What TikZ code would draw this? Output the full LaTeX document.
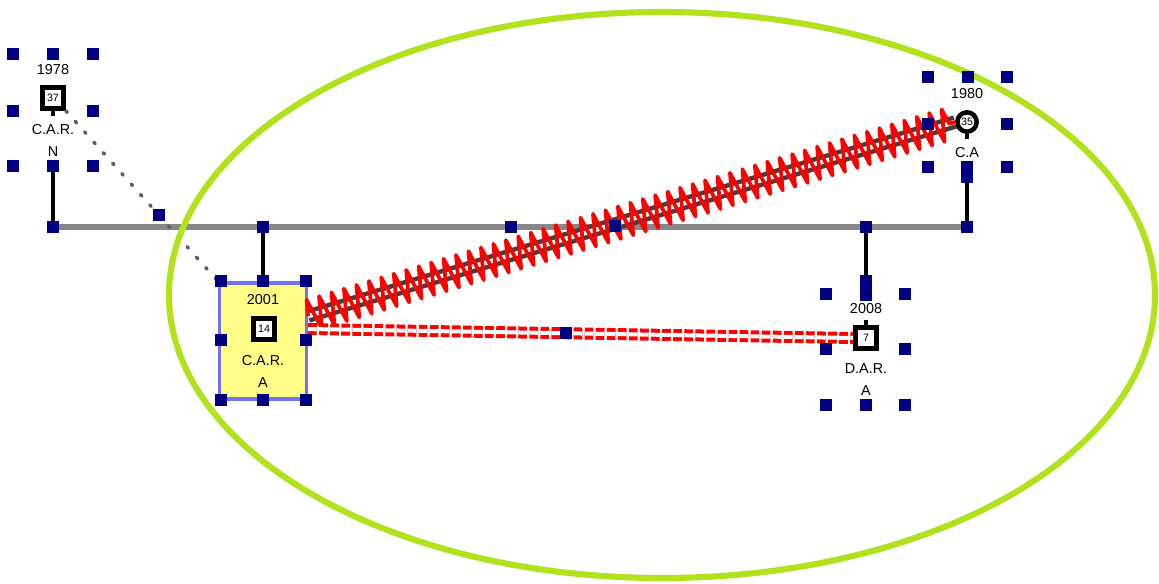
\documentclass[tikz,border=0pt]{standalone}
\usepackage{fontspec}
\setmainfont{Liberation Sans}
\usetikzlibrary{positioning, calc, decorations.pathmorphing}
\definecolor{grip}{RGB}{0, 0, 128}
\definecolor{kinline}{RGB}{135, 135, 135}
\definecolor{hoop}{RGB}{178, 226, 30}
\definecolor{focus}{RGB}{255, 255, 136}
\definecolor{focusedge}{RGB}{115, 115, 240}
\definecolor{clash}{RGB}{255, 0, 0}
\definecolor{bond}{RGB}{64, 64, 64}

\begin{document}
\begin{tikzpicture}[
    x=0.75pt, y=-0.75pt,
    male/.style={
        rectangle, draw=black, fill=white,
        line width=3.4pt, minimum size=16pt, inner sep=0pt,
        font=\fontsize{8}{9}\selectfont,
    },
    female/.style={male, circle, minimum size=14.5pt},
    focusbox/.style={
        rectangle, draw=focusedge, fill=focus,
        line width=2.6pt, minimum width=65pt, minimum height=87pt,
    },
    yearlabel/.style={font=\fontsize{10.8}{12}\selectfont, inner sep=0pt},
    namelabel/.style={
        inner sep=0pt, align=center,
        font=\fontsize{10.8}{16.5}\selectfont,
    },
    handle/.style={rectangle, fill=grip, minimum size=8.5pt, inner sep=0pt},
    tallhandle/.style={handle, minimum height=#1},
    sibline/.style={draw=kinline, line width=4pt},
    drop/.style={draw=black, line width=3pt},
    stem/.style={draw=black, line width=2.8pt},
    distant/.style={
        draw=bond!85, line width=2.6pt, line cap=round,
        dash pattern=on 1.5pt off 9pt,
    },
    bondline/.style={
        draw=bond, line width=3.4pt,
        double=white, double distance=3.4pt,
    },
    hostile/.style={
        draw=clash, line width=2.8pt, line join=round,
        decorate, decoration={zigzag, segment length=9.75pt, amplitude=12pt},
    },
    conflictline/.style={
        draw=clash, line width=3pt,
        double=white, double distance=3pt,
        dash pattern=on 6.5pt off 1.8pt,
    },
    hoopline/.style={draw=hoop, line width=4.6pt},
]

\useasboundingbox[fill=white] (0,0) rectangle (1159,584);

% =============== Focus box ===============
\node[focusbox] (box2001) at (263,341) {};

% =============== Family members ===============
\node[male]   (p1978) at (53,98)  {37};
\node[male]   (p2001) at (264,329) {14};
\node[male]   (p2008) at (866,338) {7};
\node[female] (f1980) at (967,122) {35};
% small stems on the symbols
\draw[stem] (p1978.south) -- ++(0,5);
\draw[stem] (p2008.north) -- ++(0,-5);
\draw[stem] (f1980.south) -- ++(0,5);

% =============== Line points ===============
\coordinate (l1978) at (53,227);
\coordinate (l2001) at (263,227);
\coordinate (lmid)  at (511,227);
\coordinate (l2008) at (866,227);
\coordinate (l1980) at (967,227);
\coordinate (s1978) at (53,166);
\coordinate (s2001) at (263,281);
\coordinate (s2008) at (866,288);
\coordinate (s1980) at (967,172);

% =============== Connectors ===============
\draw[sibline] (l1978) -- (l1980);
\draw[drop] (s1978) -- (l1978);
\draw[drop] (l2001) -- (s2001);
\draw[drop] (l2008) -- (s2008);
\draw[drop] (s1980) -- (l1980);

\draw[distant] (p1978.south east) -- (box2001.north west);
\draw[bondline] (box2001.east |- p2001.north) -- (f1980.west);
\draw[hostile]  (box2001.east |- p2001.north) -- (f1980.west);
\draw[conflictline] (box2001.east |- p2001) -- (p2008.west);

% =============== Ellipse round the group ===============
\draw[hoopline] (662,295) ellipse [x radius=369.75pt, y radius=212.25pt];

% =============== Labels ===============
\node[yearlabel] (y1978) at (53,70)  {1978};
\node[namelabel] (n1978) at (53,140) {C.A.R.\\N};
\node[yearlabel] (y2001) at (263,300) {2001};
\node[namelabel] (n2001) at (263,371) {C.A.R.\\A};
\node[yearlabel] (y2008) at (866,309) {2008};
\node[namelabel] (n2008) at (866,379.5) {D.A.R.\\A};
\node[yearlabel] (y1980) at (967,94)  {1980};
\node[namelabel] (n1980) at (967,153) {C.A};

% =============== Selection handles ===============
% 1978
\node[handle] (h78a) at (13,54) {};  \node[handle] (h78b) at (53,54) {};  \node[handle] (h78c) at (93,54) {};
\node[handle] (h78d) at (13,111) {}; \node[handle] (h78e) at (93,111) {};
\node[handle] (h78f) at (13,166) {}; \node[handle] (h78g) at (s1978) {}; \node[handle] (h78h) at (93,166) {};
% 2001
\node[handle] (h01a) at (221,281) {}; \node[handle] (h01b) at (s2001) {};   \node[handle] (h01c) at (306,281) {};
\node[handle] (h01d) at (221,340) {}; \node[handle] (h01e) at (306,340) {};
\node[handle] (h01f) at (221,400) {}; \node[handle] (h01g) at (263,400) {}; \node[handle] (h01h) at (306,400) {};
% 2008
\node[handle] (h08a) at (826,294) {}; \node[tallhandle=19.5pt] (h08b) at (s2008) {}; \node[handle] (h08c) at (905,294) {};
\node[handle] (h08d) at (826,349) {}; \node[handle] (h08e) at (905,349) {};
\node[handle] (h08f) at (826,405) {}; \node[handle] (h08g) at (866,405) {}; \node[handle] (h08h) at (905,405) {};
% 1980
\node[handle] (h80a) at (928,77) {};  \node[handle] (h80b) at (968,77) {};  \node[handle] (h80c) at (1007,77) {};
\node[handle] (h80d) at (928,124) {}; \node[handle] (h80e) at (1007,124) {};
\node[handle] (h80f) at (928,167) {}; \node[tallhandle=17pt] (h80g) at (s1980) {}; \node[handle] (h80h) at (1007,167) {};
% on the lines
\node[handle] (hl1) at (l1978) {};
\node[handle] (hl2) at (l2001) {};
\node[handle] (hl3) at (lmid) {};
\node[handle] (hl4) at (615,226) {};
\node[handle] (hl5) at (l2008) {};
\node[handle] (hl6) at (l1980) {};
\node[handle] (hd1) at (159,215) {};
\node[handle] (hd2) at (566,333) {};

\end{tikzpicture}
\end{document}
